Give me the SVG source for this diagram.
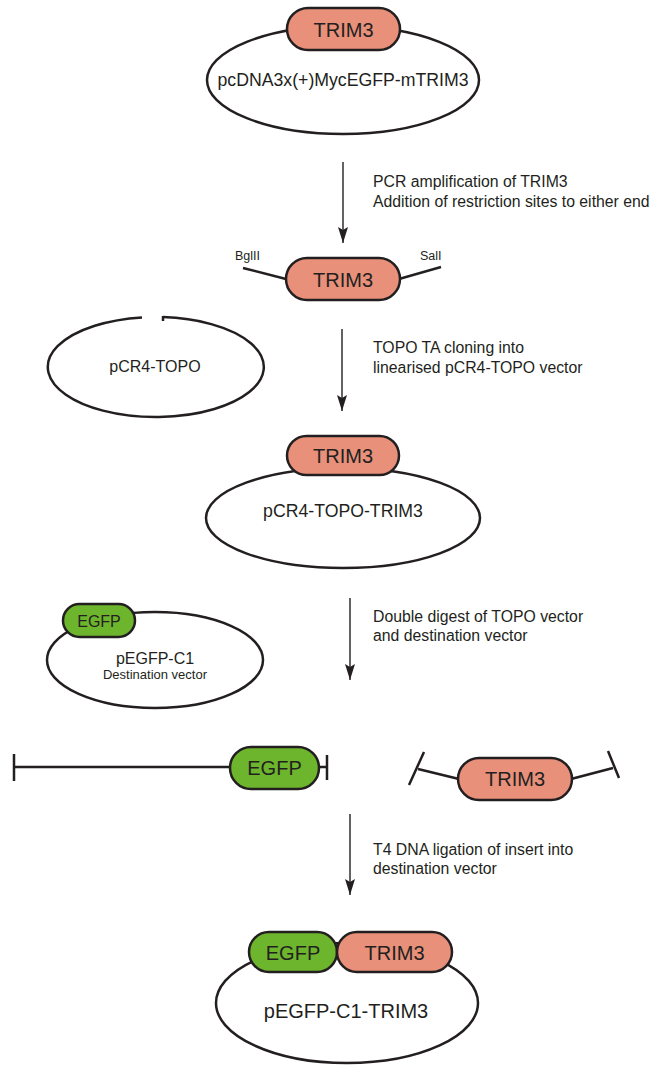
<svg xmlns="http://www.w3.org/2000/svg" width="652" height="1066" viewBox="0 0 652 1066">
  <defs>
    <marker id="arrowhead" viewBox="0 0 16 10" refX="16" refY="5" markerWidth="16" markerHeight="10" markerUnits="userSpaceOnUse" orient="auto">
      <path d="M0,0 L16,5 L0,10 L3,5 Z" fill="#231f20"/>
    </marker>
    <style>
      text { font-family: "Liberation Sans", Arial, sans-serif; fill: #231f20; }
      .plasmid { fill: #ffffff; stroke: #231f20; stroke-width: 2.5; }
      .trim { fill: #e8907a; stroke: #231f20; stroke-width: 2.5; }
      .egfp { fill: #6db52d; stroke: #231f20; stroke-width: 2.5; }
      .dna { fill: none; stroke: #231f20; stroke-width: 2.5; }
      .step { stroke: #231f20; stroke-width: 1.4; fill: none; marker-end: url(#arrowhead); }
      .gene { font-size: 20px; text-anchor: middle; }
      .name { text-anchor: middle; }
      .note { font-size: 15.8px; }
      .site { font-size: 12.5px; }
    </style>
  </defs>
  <rect width="652" height="1066" fill="#ffffff"/>

  <!-- source plasmid -->
  <g id="pcDNA3-TRIM3">
    <ellipse class="plasmid" cx="343" cy="80" rx="136" ry="54"/>
    <rect class="trim" x="287" y="8" width="113" height="42" rx="21"/>
    <text class="gene" x="343.5" y="36.5">TRIM3</text>
    <text class="name" x="343" y="86" font-size="17.7">pcDNA3x(+)MycEGFP-mTRIM3</text>
  </g>

  <!-- PCR product with restriction sites -->
  <g id="trim3-insert">
    <line class="dna" x1="243" y1="268" x2="286" y2="279"/>
    <line class="dna" x1="399" y1="279" x2="441" y2="267"/>
    <rect class="trim" x="286" y="258" width="114" height="42" rx="21"/>
    <text class="gene" x="343" y="286.5">TRIM3</text>
    <text class="site" x="235" y="260">BglII</text>
    <text class="site" x="420" y="260">SalI</text>
  </g>

  <!-- linearised TOPO vector -->
  <g id="pCR4-TOPO">
    <path class="dna" d="M163,317.1 A108,50 0 1 1 142,317.4"/>
    <line class="dna" x1="163" y1="316" x2="163" y2="321" stroke-width="2"/>
    <text class="name" x="155" y="372" font-size="16">pCR4-TOPO</text>
  </g>

  <!-- TOPO vector carrying the insert -->
  <g id="pCR4-TOPO-TRIM3">
    <ellipse class="plasmid" cx="343" cy="518" rx="137" ry="50"/>
    <rect class="trim" x="287" y="436" width="112" height="39" rx="19.5"/>
    <text class="gene" x="343" y="462.5">TRIM3</text>
    <text class="name" x="343" y="517" font-size="17.7">pCR4-TOPO-TRIM3</text>
  </g>

  <!-- destination vector -->
  <g id="pEGFP-C1">
    <ellipse class="plasmid" cx="155" cy="660" rx="108" ry="48"/>
    <rect class="egfp" x="63" y="604" width="72" height="33" rx="16.5"/>
    <text x="99" y="626.5" font-size="16" text-anchor="middle">EGFP</text>
    <text class="name" x="155" y="664" font-size="16">pEGFP-C1</text>
    <text class="name" x="155" y="679" font-size="13">Destination vector</text>
  </g>

  <!-- digested backbone -->
  <g id="egfp-backbone">
    <line class="dna" x1="14" y1="767" x2="231" y2="767"/>
    <line class="dna" x1="14" y1="754" x2="14" y2="781"/>
    <line class="dna" x1="318" y1="767" x2="327" y2="767"/>
    <line class="dna" x1="327" y1="755" x2="327" y2="780"/>
    <rect class="egfp" x="230" y="747" width="89" height="42" rx="21"/>
    <text class="gene" x="274.5" y="775">EGFP</text>
  </g>

  <!-- digested insert -->
  <g id="trim3-fragment">
    <line class="dna" x1="418" y1="769" x2="459" y2="779"/>
    <line class="dna" x1="424" y1="752" x2="409" y2="785"/>
    <line class="dna" x1="571" y1="779" x2="613" y2="768"/>
    <line class="dna" x1="608" y1="751" x2="619" y2="778"/>
    <rect class="trim" x="458" y="758" width="114" height="42" rx="21"/>
    <text class="gene" x="515" y="786">TRIM3</text>
  </g>

  <!-- final construct -->
  <g id="pEGFP-C1-TRIM3">
    <ellipse class="plasmid" cx="347" cy="1003" rx="131" ry="60"/>
    <rect class="egfp" x="249" y="932" width="88" height="40" rx="20"/>
    <rect class="trim" x="337" y="932" width="115" height="40" rx="20"/>
    <text class="gene" x="293" y="959.5">EGFP</text>
    <text class="gene" x="394.5" y="959.5">TRIM3</text>
    <text class="name" x="346" y="1018" font-size="20">pEGFP-C1-TRIM3</text>
  </g>

  <!-- process steps -->
  <g id="connectors">
    <line class="step" x1="343" y1="162" x2="343" y2="243"/>
    <line class="step" x1="342" y1="329" x2="342" y2="411"/>
    <line class="step" x1="350" y1="598" x2="350" y2="680"/>
    <line class="step" x1="350" y1="814" x2="350" y2="895"/>
  </g>

  <g id="step-labels">
    <text class="note" x="373" y="187">PCR amplification of TRIM3</text>
    <text class="note" x="373" y="207">Addition of restriction sites to either end</text>
    <text class="note" x="373" y="353">TOPO TA cloning into</text>
    <text class="note" x="373" y="373">linearised pCR4-TOPO vector</text>
    <text class="note" x="373" y="622">Double digest of TOPO vector</text>
    <text class="note" x="373" y="641">and destination vector</text>
    <text class="note" x="373" y="855">T4 DNA ligation of insert into</text>
    <text class="note" x="373" y="874">destination vector</text>
  </g>
</svg>
